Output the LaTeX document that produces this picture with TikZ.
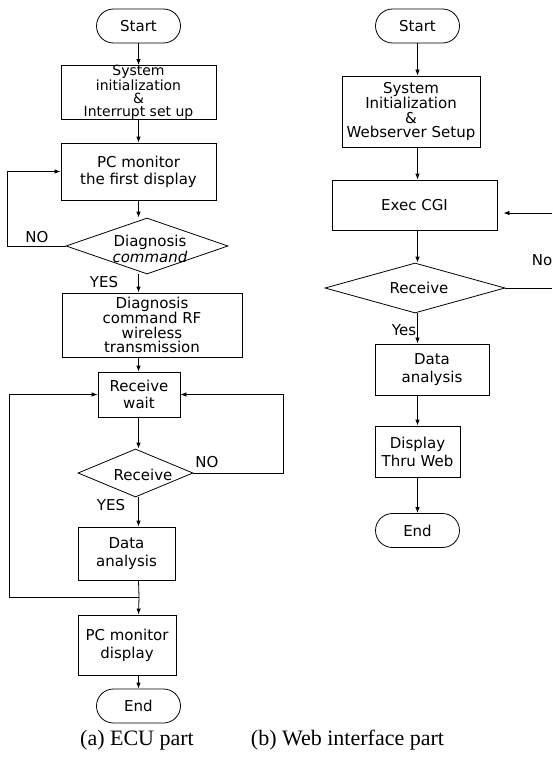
\documentclass[tikz,border=0pt]{standalone}
\usepackage{fontspec}
\setmainfont{DejaVu Sans}
\newfontfamily\capfont{Liberation Serif}
\usetikzlibrary{shapes.geometric,shapes.misc,arrows.meta}
\begin{document}
\begin{tikzpicture}[x=1pt,y=-1pt,
  every node/.style={inner sep=0pt},
  box/.style={draw, line width=0.8pt, rectangle, align=center, font=\fontsize{15}{17}\selectfont},
  term/.style={draw, line width=0.8pt, rounded rectangle, minimum width=84pt, minimum height=34pt, font=\fontsize{15}{17}\selectfont},
  dia/.style={draw, line width=0.8pt, diamond},
  lbl/.style={align=center, font=\fontsize{15}{17}\selectfont},
  captxt/.style={font=\capfont\fontsize{22}{24}\selectfont},
  arr/.style={-{Latex[length=6pt,width=4.5pt]}, line width=0.8pt},
  ln/.style={line width=0.8pt}
]
\useasboundingbox (0,0) rectangle (552,760);

% ---------- (a) ECU part ----------
\node[term] (startL) at (138.5,26) {Start};
\node[box, minimum width=155pt, minimum height=54pt, font=\fontsize{14}{13}\selectfont] (initL) at (138.5,92.5)
  {System\\initialization\\\&\\Interrupt set up};
\node[box, minimum width=155pt, minimum height=57pt] (monL) at (138.5,171.5)
  {PC monitor\\the first display};
\node[dia, minimum width=162pt, minimum height=56pt] (diagL) at (147,246) {};
\node[lbl, font=\fontsize{15}{14}\selectfont] (diagLt) at (150,249) {Diagnosis\\\textit{command}};
\node[box, minimum width=180pt, minimum height=64pt, font=\fontsize{15}{14.5}\selectfont] (txL) at (152,325)
  {Diagnosis\\command RF\\wireless\\transmission};
\node[box, minimum width=82pt, minimum height=45pt] (waitL) at (139,394.5) {Receive\\wait};
\node[dia, minimum width=115pt, minimum height=48pt] (recvL) at (135.5,473) {};
\node[lbl] (recvLt) at (143,475) {Receive};
\node[box, minimum width=97pt, minimum height=53pt, font=\fontsize{15}{18}\selectfont] (dataL) at (126.5,553.5) {Data\\analysis};
\node[box, minimum width=98pt, minimum height=60pt, font=\fontsize{15}{18}\selectfont] (pcL) at (127,645) {PC monitor\\display};
\node[term] (endL) at (138.5,706) {End};
\coordinate (jn) at (139,597);

\draw[arr] (startL.south) -- (initL.north -| startL);
\draw[arr] (initL.south -| startL) -- (monL.north -| startL);
\draw[arr] (monL.south -| startL) -- (diagL.north -| startL);
\draw[arr] (diagL.west) -- ++(-58,0) |- (monL.west);
\draw[arr] (diagL.south -| startL) -- (txL.north -| startL);
\draw[arr] (txL.south -| startL) -- (waitL.north -| startL);
\draw[arr] (waitL.south -| startL) -- (recvL.north -| startL);
\draw[arr] (recvL.east) -- ++(90,0) |- (waitL.east);
\draw[arr] (recvL.south -| startL) -- (dataL.north -| startL);
\draw[ln] (dataL.south -| startL) -- (jn);
\draw[arr] (jn) -- (pcL.north -| startL);
\draw[arr] (jn) -- ++(-130,0) |- (waitL.west);
\draw[arr] (pcL.south -| startL) -- (endL.north);

\node[lbl] (noA) at (37,237) {NO};
\node[lbl] (yesA) at (104,282) {YES};
\node[lbl] (noB) at (207,462) {NO};
\node[lbl] (yesB) at (111,505) {YES};

% ---------- (b) Web interface part ----------
\node[term] (startR) at (417.5,26) {Start};
\node[box, minimum width=138pt, minimum height=71pt, font=\fontsize{15}{14.5}\selectfont] (initR) at (411,111.5)
  {System\\Initialization\\\&\\Webserver Setup};
\node[box, minimum width=165pt, minimum height=50pt] (execR) at (414.5,205) {Exec CGI};
\node[dia, minimum width=180pt, minimum height=50pt] (recvR) at (415,288) {};
\node[lbl] (recvRt) at (419,288) {Receive};
\node[box, minimum width=114pt, minimum height=51pt, font=\fontsize{15}{18}\selectfont] (dataR) at (432,369.5) {Data\\analysis};
\node[box, minimum width=85pt, minimum height=51pt, font=\fontsize{15}{18}\selectfont] (dispR) at (417.5,451.5) {Display\\Thru Web};
\node[term] (endR) at (417.5,530.5) {End};
\coordinate (edgeA) at (552,288);
\coordinate (edgeB) at (552,213);

\draw[arr] (startR.south) -- (initR.north -| startR);
\draw[arr] (initR.south -| startR) -- (execR.north -| startR);
\draw[arr] (execR.south -| startR) -- (recvR.north -| startR);
\draw[ln] (recvR.east) -- (edgeA);
\draw[arr, shorten >=6pt] (edgeB) -- (execR.east |- edgeB);
\draw[arr] (recvR.south -| startR) -- (dataR.north -| startR);
\draw[arr] (dataR.south -| startR) -- (dispR.north -| startR);
\draw[arr] (dispR.south -| startR) -- (endR.north -| startR);

\node[lbl] (noC) at (542,260) {No};
\node[lbl] (yesC) at (404,330) {Yes};

% ---------- captions ----------
\node[captxt] (capA) at (137,740) {(a) ECU part};
\node[captxt] (capB) at (347.5,740) {(b) Web interface part};
\end{tikzpicture}
\end{document}
